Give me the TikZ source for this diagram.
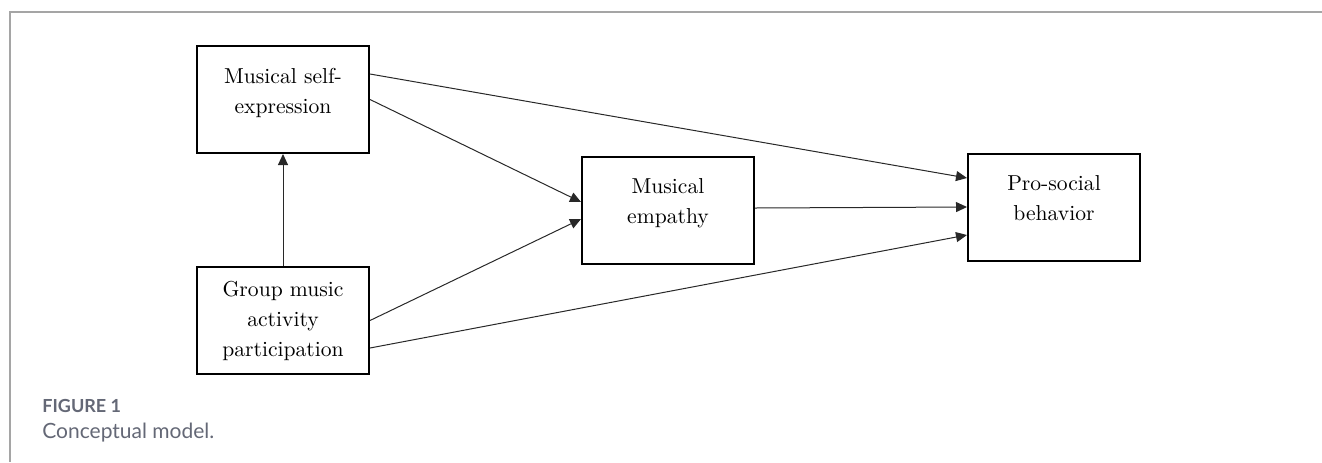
\documentclass[tikz,border=0pt]{standalone}
\usepackage{fontspec}
\newfontfamily\capfont{Lato}
\usepackage{tikz}
\usetikzlibrary{arrows.meta,calc,positioning}
\definecolor{framegray}{RGB}{165,165,165}
\definecolor{capgray}{RGB}{100,104,118}
\definecolor{linkgray}{RGB}{40,40,40}

\begin{document}
\begin{tikzpicture}[x=0.5pt,y=-0.5pt,>={Triangle[length=5.5pt,width=5pt]},
  every node/.style={font=\fontsize{10.8}{15}\selectfont},
  box/.style={draw,line width=1pt,minimum width=86pt,minimum height=53.5pt,align=center,inner sep=0pt},
  up/.style={text depth=9pt},
  link/.style={->,linkgray,line width=0.5pt},
  captext/.style={anchor=base west,inner sep=0pt,text=capgray}]
  \useasboundingbox (0,0) rectangle (1322,462);
  \draw[framegray,line width=0.75pt] (1322,12) -- (10,12) -- (10,462);
  % model boxes
  \node[box,up] (A) at (283,99.5) {Musical self-\\expression};
  \node[box] (G) at (283,320.5) {Group music\\activity\\participation};
  \node[box,up] (M) at (668,210) {Musical\\empathy};
  \node[box,up] (P) at (1054,207) {Pro-social\\behavior};
  % paths
  \draw[link] (G) -- (A);
  \draw[link] ([yshift=12.75pt]A.east) -- ([yshift=14.5pt]P.west);
  \draw[link] (A.east) -- ([yshift=4pt]M.west);
  \draw[link] (G.east) -- ([yshift=-4.5pt]M.west);
  \draw[link] ([yshift=-13.75pt]G.east) -- ([yshift=-14pt]P.west);
  \draw[link] ([yshift=1pt]M.east) -- (P.west);
  % caption
  \node[captext,font=\capfont\fontsize{9}{10}\selectfont\bfseries] (fig) at (42,412) {FIGURE 1};
  \node[captext,font=\capfont\fontsize{10.5}{12}\selectfont] (title) at (42,438) {Conceptual model.};
\end{tikzpicture}
\end{document}
